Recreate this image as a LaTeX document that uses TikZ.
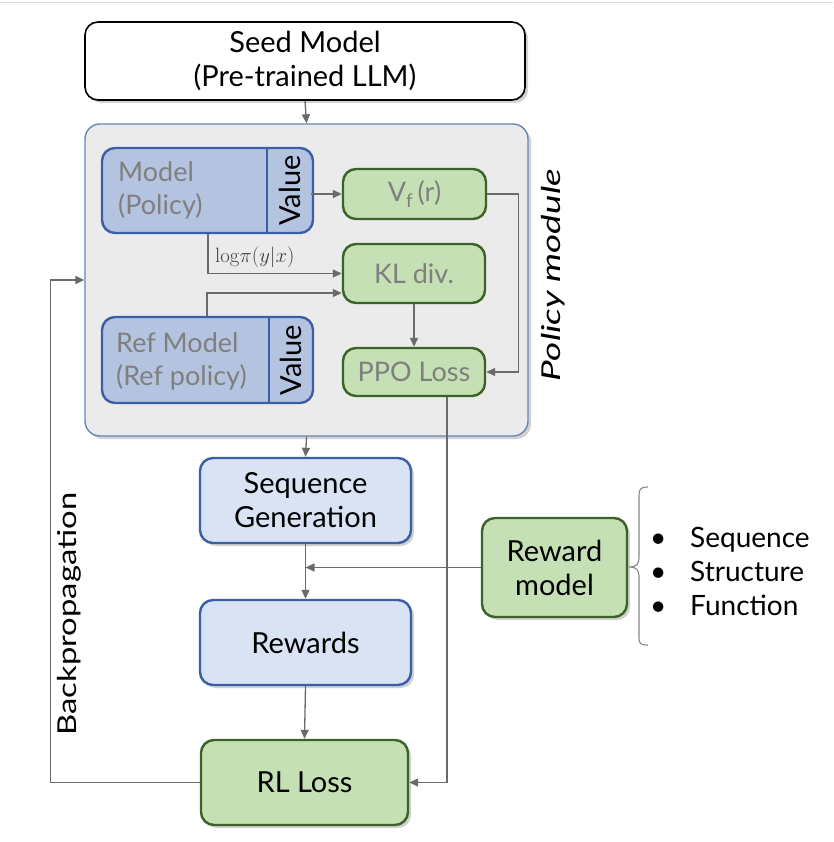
\documentclass[tikz,border=0pt]{standalone}
\usepackage[no-math]{fontspec}
\setmainfont{Lato}
\usetikzlibrary{arrows.meta,shadows,calc}
\definecolor{arrgray}{HTML}{6A6A6A}
\definecolor{bluefill}{HTML}{B4C4E0}
\definecolor{lightblue}{HTML}{DAE3F3}
\definecolor{blueedge}{HTML}{3A5FA6}
\definecolor{greenfill}{HTML}{C5E0B4}
\definecolor{greenedge}{HTML}{3B6327}
\definecolor{policyfill}{HTML}{EBEBEB}
\definecolor{policyedge}{HTML}{6785B8}
\definecolor{innertext}{HTML}{7F7F7F}
\tikzset{
  shad/.style={drop shadow={shadow xshift=3pt,shadow yshift=-3pt,opacity=0.18,fill=black}},
  box/.style={rounded corners=13pt,inner sep=0pt,align=center,font=\fontsize{29}{34}\selectfont},
  seedbox/.style={box,draw=black,line width=1.6pt,fill=white,shad},
  bluebox/.style={box,draw=blueedge,line width=2.4pt,fill=lightblue,shad},
  innerblue/.style={box,draw=blueedge,line width=2.4pt,fill=bluefill},
  greenbox/.style={box,draw=greenedge,line width=2.4pt,fill=greenfill,shad},
  innergreen/.style={box,draw=greenedge,line width=2.4pt,fill=greenfill,text=innertext,font=\fontsize{27}{33}\selectfont},
  arr/.style={draw=arrgray,line width=1.3pt,-{Triangle[length=9pt,width=8pt]}},
  lbl/.style={inner sep=0pt,font=\fontsize{29}{34}\selectfont},
  innerlbl/.style={inner sep=0pt,font=\fontsize{27}{33}\selectfont,text=innertext,anchor=west,align=left},
}
\begin{document}
\begin{tikzpicture}[x=1pt,y=-1pt]
\useasboundingbox[fill=white] (0,0) rectangle (833,842);
\draw[black!15,line width=1pt] (0,3) -- (833,3);

% seed
\node[seedbox,minimum width=440pt,minimum height=78pt] (seed) at (305,61) {Seed Model\\(Pre-trained LLM)};

% policy module
\node[rounded corners=15pt,draw=policyedge,line width=1.4pt,fill=policyfill,minimum width=443pt,minimum height=312pt,inner sep=0pt,shad] (policy) at (306.5,280) {};
\node[inner sep=0pt,rotate=90,font=\fontsize{26}{30}\selectfont\itshape] (plabel) at (553,275) {\scalebox{1.42}[1]{Policy module}};

% model
\node[innerblue,minimum width=211pt,minimum height=85pt] (model) at (207.5,190.5) {};
\draw[blueedge,line width=2.4pt] (model.north west -| 267,0) coordinate (md1) -- (model.south west -| 267,0) coordinate (md2);
\node[innerlbl] (modeltext) at (118,190.5) {Model\\(Policy)};
\node[lbl,rotate=90,text=black] (modelvalue) at (290,190.5) {Value};

% ref model
\node[innerblue,minimum width=211pt,minimum height=86pt] (ref) at (207.5,360) {};
\draw[blueedge,line width=2.4pt] (ref.north west -| 269,0) coordinate (rd1) -- (ref.south west -| 269,0) coordinate (rd2);
\node[innerlbl] (reftext) at (116,361) {Ref Model\\(Ref policy)};
\node[lbl,rotate=90,text=black] (refvalue) at (291,360) {Value};

% green inner
\node[innergreen,minimum width=143pt,minimum height=50pt] (vf) at (414.5,194) {V\textsubscript{f}\,(r)};
\node[innergreen,minimum width=142pt,minimum height=59pt] (kl) at (414,273.5) {KL div.};
\node[innergreen,minimum width=142pt,minimum height=48pt] (ppo) at (414,372) {PPO Loss};

% lower column
\node[bluebox,minimum width=211pt,minimum height=85pt] (seq) at (305.5,500.5) {Sequence\\Generation};
\node[bluebox,minimum width=211pt,minimum height=85pt] (rew) at (305.5,642.5) {Rewards};
\node[greenbox,minimum width=207pt,minimum height=85pt] (rl) at (304.5,782.5) {RL Loss};
\node[greenbox,minimum width=145pt,minimum height=99pt] (rm) at (554.5,567.5) {Reward\\model};

\node[inner sep=0pt,rotate=90,font=\fontsize{26}{30}\selectfont] (bp) at (69,614) {\scalebox{1.26}[1]{Backpropagation}};

% brace
\draw[arrgray!80,line width=1.1pt] (648,487) .. controls (641,487) and (639,489) .. (639,495) -- (639,558) .. controls (639,564) and (636,567) .. (630,567) .. controls (636,567) and (639,570) .. (639,576) -- (639,638) .. controls (639,644) and (641,645) .. (648,645);

\node[lbl,anchor=west,align=left,font=\fontsize{28}{34}\selectfont] (bul) at (650,571) {\makebox[40pt][l]{•}Sequence\\\makebox[40pt][l]{•}Structure\\\makebox[40pt][l]{•}Function};

% connectors
\draw[arr] (modelvalue.south |- vf.west) ++(10,0) -- (vf.west);
\draw[arr] (seed.south) -- (policy.north);
\draw[arr] ([xshift=0.5pt]model.south) |- (kl.west);
\node[inner sep=0pt,anchor=south west,text=black!75,font=\fontsize{22}{24}\selectfont] (loglbl) at (215,268) {$\mathrm{log}\pi(y|x)$};
\draw[arr] ([xshift=-0.5pt]ref.north) |- ([yshift=-19.5pt]kl.west);
\draw[arr] (kl.south) -- (ppo.north);
\draw[arr] (vf.east) -- ++(31,0) |- (ppo.east);
\draw[arr] ([xshift=33pt]ppo.south) |- (rl.east);
\draw[arr] (policy.south) -- (seq.north);
\draw[arr] (seq.south) -- (rew.north);
\draw[arr] (rm.west) -- (seq.south |- rm.west);
\draw[arr] (rew.south) -- (rl.north);
\draw[arr] (rl.west) -- ++(-149,0) |- (policy.west);
\end{tikzpicture}
\end{document}
